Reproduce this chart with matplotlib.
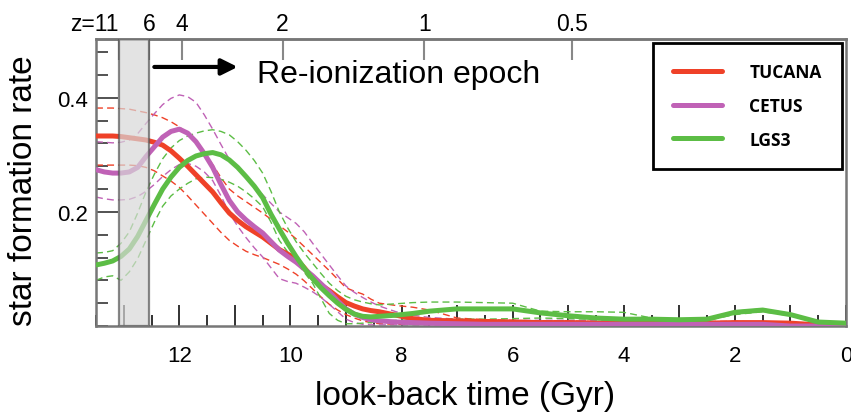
import matplotlib
matplotlib.use("Agg")
import matplotlib.pyplot as plt
from matplotlib.ticker import MultipleLocator, FixedLocator, FuncFormatter

plt.rcParams["font.family"] = ["Liberation Sans", "DejaVu Sans"]

# look-back time grid (Gyr), shared by every curve
t_gyr = [13.5, 13.35, 13.2, 13.05, 12.9, 12.75, 12.6, 12.45, 12.3, 12.15, 12.0, 11.85,
         11.7, 11.55, 11.4, 11.25, 11.1, 10.95, 10.8, 10.65, 10.5, 10.35, 10.2, 10.05,
         9.9, 9.75, 9.6, 9.45, 9.3, 9.15, 9.0, 8.85, 8.7, 8.55, 8.4,
         8.1, 7.8, 7.5, 7.0, 6.5, 6.0, 5.5, 5.0, 4.5, 4.0, 3.5, 3.0, 2.5, 2.0, 1.5, 1.0, 0.5, 0.0]

# star formation rate (solid = best fit, hi/lo = dashed bounds)
tucana_sfr = [0.333, 0.333, 0.333, 0.332, 0.330, 0.328, 0.326, 0.322, 0.317, 0.307, 0.294, 0.280,
              0.265, 0.250, 0.235, 0.216, 0.198, 0.185, 0.174, 0.165, 0.156, 0.145, 0.134, 0.126,
              0.118, 0.102, 0.084, 0.072, 0.062, 0.051, 0.041, 0.035, 0.030, 0.027, 0.025,
              0.019, 0.013, 0.010, 0.009, 0.008, 0.007, 0.006, 0.006, 0.005, 0.005, 0.005, 0.005,
              0.005, 0.006, 0.006, 0.005, 0.002, 0.000]
tucana_hi = [0.382, 0.382, 0.382, 0.381, 0.380, 0.377, 0.374, 0.370, 0.365, 0.358, 0.349, 0.338,
             0.326, 0.305, 0.283, 0.260, 0.240, 0.228, 0.218, 0.208, 0.198, 0.187, 0.176, 0.165,
             0.153, 0.139, 0.125, 0.111, 0.097, 0.082, 0.067, 0.061, 0.056, 0.047, 0.040,
             0.036, 0.033, 0.028, 0.014, 0.011, 0.010, 0.009, 0.009, 0.008, 0.008, 0.008, 0.008,
             0.008, 0.008, 0.007, 0.006, 0.003, 0.000]
tucana_lo = [0.282, 0.282, 0.282, 0.282, 0.282, 0.281, 0.278, 0.272, 0.263, 0.254, 0.243, 0.228,
             0.212, 0.196, 0.180, 0.164, 0.150, 0.140, 0.131, 0.125, 0.120, 0.114, 0.108, 0.100,
             0.091, 0.079, 0.065, 0.051, 0.038, 0.028, 0.020, 0.014, 0.009, 0.006, 0.004,
             0.003, 0.003, 0.003, 0.003, 0.003, 0.003, 0.003, 0.003, 0.003, 0.003, 0.003, 0.003,
             0.003, 0.003, 0.003, 0.002, 0.001, 0.000]

cetus_sfr = [0.274, 0.270, 0.268, 0.268, 0.270, 0.278, 0.297, 0.314, 0.331, 0.341, 0.345, 0.338,
             0.323, 0.302, 0.278, 0.248, 0.220, 0.200, 0.186, 0.174, 0.163, 0.148, 0.133, 0.122,
             0.112, 0.100, 0.088, 0.074, 0.060, 0.044, 0.030, 0.021, 0.015, 0.011, 0.009,
             0.007, 0.006, 0.005, 0.004, 0.003, 0.003, 0.003, 0.003, 0.003, 0.003, 0.003, 0.003,
             0.003, 0.003, 0.003, 0.000, 0.000, 0.000]
cetus_hi = [0.323, 0.322, 0.321, 0.322, 0.326, 0.337, 0.355, 0.372, 0.388, 0.399, 0.405, 0.402,
            0.392, 0.370, 0.345, 0.318, 0.292, 0.275, 0.262, 0.246, 0.230, 0.215, 0.200, 0.190,
            0.180, 0.165, 0.145, 0.126, 0.107, 0.088, 0.070, 0.059, 0.050, 0.042, 0.035,
            0.025, 0.019, 0.015, 0.012, 0.010, 0.010, 0.010, 0.010, 0.010, 0.010, 0.010, 0.010,
            0.008, 0.006, 0.004, 0.002, 0.000, 0.000]
cetus_lo = [0.226, 0.223, 0.221, 0.221, 0.222, 0.227, 0.236, 0.248, 0.262, 0.274, 0.283, 0.285,
            0.280, 0.270, 0.255, 0.228, 0.198, 0.175, 0.155, 0.137, 0.121, 0.102, 0.083, 0.078,
            0.075, 0.068, 0.060, 0.050, 0.038, 0.025, 0.012, 0.006, 0.003, 0.002, 0.002,
            0.002, 0.002, 0.002, 0.002, 0.002, 0.002, 0.002, 0.002, 0.002, 0.002, 0.002, 0.002,
            0.002, 0.002, 0.001, 0.000, 0.000, 0.000]

lgs3_sfr = [0.107, 0.110, 0.114, 0.122, 0.135, 0.157, 0.185, 0.213, 0.240, 0.261, 0.278, 0.290,
            0.298, 0.302, 0.304, 0.300, 0.291, 0.278, 0.262, 0.245, 0.225, 0.196, 0.170, 0.145,
            0.122, 0.101, 0.083, 0.067, 0.053, 0.040, 0.029, 0.021, 0.017, 0.016, 0.017,
            0.019, 0.022, 0.026, 0.030, 0.030, 0.030, 0.023, 0.018, 0.014, 0.012, 0.012, 0.011,
            0.012, 0.024, 0.028, 0.020, 0.007, 0.005]
lgs3_hi = [0.128, 0.129, 0.132, 0.145, 0.165, 0.198, 0.235, 0.266, 0.293, 0.312, 0.325, 0.333,
           0.338, 0.342, 0.344, 0.341, 0.335, 0.323, 0.308, 0.290, 0.268, 0.236, 0.200, 0.172,
           0.148, 0.128, 0.110, 0.092, 0.075, 0.062, 0.052, 0.046, 0.042, 0.039, 0.037,
           0.039, 0.041, 0.042, 0.042, 0.041, 0.040, 0.026, 0.025, 0.025, 0.024, 0.014, 0.012,
           0.013, 0.026, 0.030, 0.022, 0.008, 0.005]
lgs3_lo = [0.080, 0.086, 0.088, 0.080, 0.095, 0.118, 0.150, 0.182, 0.210, 0.228, 0.240, 0.250,
           0.258, 0.261, 0.260, 0.257, 0.252, 0.245, 0.235, 0.223, 0.209, 0.182, 0.150, 0.130,
           0.112, 0.094, 0.075, 0.048, 0.022, 0.010, 0.004, 0.004, 0.005, 0.006, 0.008,
           0.010, 0.011, 0.011, 0.012, 0.012, 0.013, 0.014, 0.013, 0.012, 0.010, 0.009, 0.009,
           0.010, 0.020, 0.025, 0.018, 0.006, 0.004]

galaxies = ["TUCANA", "CETUS", "LGS3"]
colors = ["#ef4128", "#c062b6", "#5cbd45"]

# redshift axis on top, placed at the look-back times shown in the figure
z_labels = ["z=11", "6", "4", "2", "1", "0.5"]
z_lookback = [13.09, 12.54, 11.95, 10.14, 7.59, 4.93]

fig = plt.figure(figsize=(8.51, 4.14), dpi=100)
ax = fig.add_axes([0.1128, 0.2101, 0.8813, 0.6933])

series = [(tucana_sfr, tucana_hi, tucana_lo), (cetus_sfr, cetus_hi, cetus_lo),
          (lgs3_sfr, lgs3_hi, lgs3_lo)]
handles = []
for (mid, hi, lo), c in zip(series, colors):
    for band in (hi, lo):
        ax.plot(t_gyr, band, color=c, lw=1.0, dashes=(5, 3), zorder=2)
for (mid, hi, lo), name, c in zip(series, galaxies, colors):
    h, = ax.plot(t_gyr, mid, color=c, lw=3.6, solid_capstyle="round",
                 solid_joinstyle="round", label=name, zorder=3)
    handles.append(h)

# re-ionization band between z=11 and z=6
ax.axvspan(z_lookback[1], z_lookback[0], facecolor="#d8d8d8", alpha=0.7,
           edgecolor="#555555", lw=1.6, zorder=5)
ax.annotate("", xy=(10.9, 0.454), xytext=(12.5, 0.454),
            arrowprops=dict(arrowstyle="-|>", lw=3, color="black", mutation_scale=24),
            zorder=6)
ax.text(10.6, 0.428, "Re-ionization epoch", fontsize=23, va="baseline")

ax.set_xlim(13.5, 0)
ax.set_ylim(0, 0.503)

ax.xaxis.set_major_locator(MultipleLocator(1))
ax.xaxis.set_minor_locator(MultipleLocator(0.5))
ax.xaxis.set_major_formatter(FuncFormatter(lambda v, _: f"{v:.0f}" if round(v) % 2 == 0 else ""))
ax.yaxis.set_major_locator(FixedLocator([0.2, 0.4]))
ax.yaxis.set_minor_locator(MultipleLocator(0.04))
ax.yaxis.set_major_formatter(FuncFormatter(lambda v, _: f"{v:.1f}"))

ax.tick_params(axis="x", which="major", direction="in", length=15, width=1.3,
               color="#222222", labelsize=16, pad=14)
ax.tick_params(axis="x", which="minor", direction="in", length=8, width=1.3, color="#222222")
ax.tick_params(axis="y", which="major", direction="in", length=16, width=1.3,
               color="#444444", labelsize=16, pad=6)
ax.tick_params(axis="y", which="minor", direction="in", length=8.5, width=1.3, color="#444444")
for s in ax.spines.values():
    s.set_color("#777777")
    s.set_linewidth(1.8)

ax_top = ax.secondary_xaxis("top")
ax_top.set_xticks(z_lookback, labels=z_labels)
ax_top.tick_params(direction="in", length=15, width=1.5, color="#888888", labelsize=16.5, pad=3)
ax_top.get_xticklabels()[0].set_horizontalalignment("right")
ax_top.spines["top"].set_color("#777777")
ax_top.spines["top"].set_linewidth(1.8)

fig.text(0.5464, 0.022, "look-back time (Gyr)", fontsize=24, ha="center", va="baseline")
fig.text(0.028, 0.539, "star formation rate", fontsize=24, rotation=90, ha="center", va="center")

leg = ax.legend(handles=handles, loc="upper right", bbox_to_anchor=(1, 1), borderaxespad=0.25,
                prop={"family": "Open Sans", "weight": "bold", "size": 12.5},
                handlelength=2.8, handletextpad=1.6, labelspacing=0.9, borderpad=1.15,
                fancybox=False, edgecolor="black", framealpha=1)
leg.get_frame().set_linewidth(2)
leg.set_zorder(10)

fig.savefig("out.png", dpi=100)
